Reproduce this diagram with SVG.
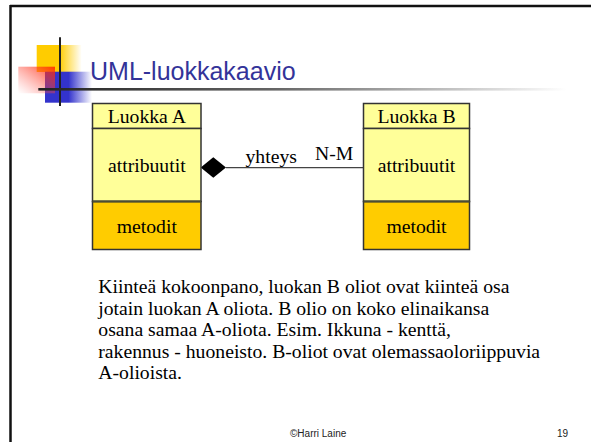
<svg xmlns="http://www.w3.org/2000/svg" width="591" height="442" viewBox="0 0 591 442">
<style>
.t{font-family:"Liberation Serif","Times New Roman",serif;font-size:19.7px;fill:#000}
.c{text-anchor:middle}
.hdr{fill:#FFFF99;stroke:#333;stroke-width:1.5}
.met{fill:#FFCC00;stroke:#333;stroke-width:1.5}
.foot{font-family:"Liberation Sans",Arial,sans-serif;font-size:10px;fill:#222}
</style>
<defs>
<linearGradient id="gy" x1="0" y1="0" x2="1" y2="0"><stop offset="0.5" stop-color="#FFCC00"/><stop offset="1" stop-color="#FFCC00" stop-opacity="0"/></linearGradient>
<linearGradient id="gb" x1="0" y1="0" x2="1" y2="0"><stop offset="0.5" stop-color="#3333CC"/><stop offset="1" stop-color="#3333CC" stop-opacity="0"/></linearGradient>
<linearGradient id="gr" x1="1" y1="0" x2="0" y2="1"><stop offset="0" stop-color="#FF2200" stop-opacity="0.85"/><stop offset="1" stop-color="#FF6666" stop-opacity="0"/></linearGradient>
<linearGradient id="gl" x1="0" y1="0" x2="1" y2="0"><stop offset="0" stop-color="#222"/><stop offset="0.45" stop-color="#666"/><stop offset="1" stop-color="#fff"/></linearGradient>
</defs>
<rect width="591" height="442" fill="#fff"/>
<g id="frame">
<line x1="10" y1="6" x2="591" y2="6" stroke="#111" stroke-width="2.5"/>
<line x1="10.5" y1="5" x2="10.5" y2="442" stroke="#111" stroke-width="2.5"/>
</g>
<g id="decoration">
<rect x="36.7" y="45" width="45" height="27" fill="url(#gy)"/>
<rect x="45" y="71.7" width="47" height="31" fill="url(#gb)"/>
<rect x="18.3" y="66.7" width="36.7" height="26.6" fill="url(#gr)"/>
<line x1="60" y1="37.3" x2="60" y2="106" stroke="#222" stroke-width="2"/>
<rect x="38.3" y="88" width="528" height="2.6" fill="url(#gl)"/>
</g>
<text x="90" y="80" font-family="'Liberation Sans',Arial,sans-serif" font-size="25" fill="#333399">UML-luokkakaavio</text>
<g id="connectors">
<line x1="226" y1="167.7" x2="363.5" y2="167.7" stroke="#444" stroke-width="1.3"/>
<polygon points="200.7,167.5 213.3,157.3 226,167.5 213.3,177.7" fill="#000"/>
<text class="t" x="245.5" y="163.3">yhteys</text>
<text class="t" x="315" y="160">N-M</text>
</g>
<g id="luokkaA">
<rect class="hdr" x="92.5" y="103.5" width="108.5" height="25"/>
<rect class="hdr" x="92.5" y="128.5" width="108.5" height="73"/>
<rect class="met" x="92.5" y="201.5" width="108.5" height="48"/>
<line x1="92.5" y1="201.5" x2="201" y2="201.5" stroke="#4d4d33" stroke-width="2"/>
<text class="t c" x="146.8" y="123.3">Luokka A</text>
<text class="t c" x="146.8" y="171.7">attribuutit</text>
<text class="t c" x="146.8" y="233.3">metodit</text>
</g>
<g id="luokkaB">
<rect class="hdr" x="363.5" y="103.5" width="106" height="25"/>
<rect class="hdr" x="363.5" y="128.5" width="106" height="73"/>
<rect class="met" x="363.5" y="201.5" width="106" height="48"/>
<line x1="363.5" y1="201.5" x2="469.5" y2="201.5" stroke="#4d4d33" stroke-width="2"/>
<text class="t c" x="416.5" y="123.3">Luokka B</text>
<text class="t c" x="416.5" y="171.7">attribuutit</text>
<text class="t c" x="416.5" y="233.3">metodit</text>
</g>
<g id="description">
<text class="t" x="98.3" y="293.3">Kiinteä kokoonpano, luokan B oliot ovat kiinteä osa</text>
<text class="t" x="98.3" y="314.8">jotain luokan A oliota. B olio on koko elinaikansa</text>
<text class="t" x="98.3" y="336.3">osana samaa A-oliota. Esim. Ikkuna - kenttä,</text>
<text class="t" x="98.3" y="357.8">rakennus - huoneisto. B-oliot ovat olemassaoloriippuvia</text>
<text class="t" x="98.3" y="379.3">A-olioista.</text>
</g>
<g id="footer">
<text class="foot" x="290" y="436.5">©Harri Laine</text>
<text class="foot" x="557" y="436.5">19</text>
</g>
</svg>
